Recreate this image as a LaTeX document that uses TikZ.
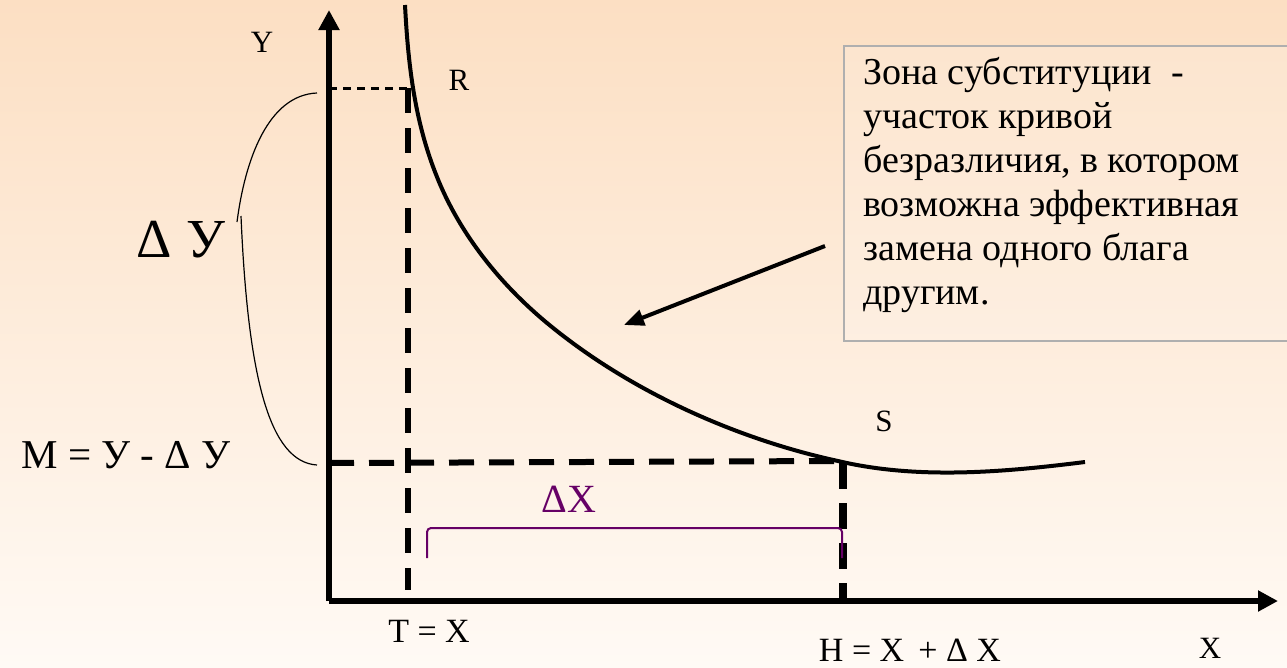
\documentclass[tikz,border=0pt]{standalone}
\usepackage{fontspec}
\setmainfont{Liberation Serif}
\usetikzlibrary{arrows.meta}
\definecolor{bgtop}{RGB}{252,223,195}
\definecolor{bgbot}{RGB}{255,250,245}
\definecolor{bracecol}{RGB}{102,0,102}
\definecolor{boxline}{RGB}{175,175,175}
\tikzset{
  axisline/.style={line width=6pt,-{Triangle[length=20pt,width=20pt]}},
  curveline/.style={line width=4pt},
  thindash/.style={line width=3pt,dash pattern=on 8pt off 6pt},
  thickdash/.style={line width=6pt,dash pattern=on 25pt off 15pt},
  heavydash/.style={line width=8pt,dash pattern=on 26pt off 14pt},
  thinbrace/.style={line width=1.2pt},
  lab/.style={inner sep=0pt,font=\fontsize{31}{36}\selectfont},
  eqlab/.style={inner sep=0pt,font=\fontsize{34}{40}\selectfont},
  biglab/.style={inner sep=0pt,font=\fontsize{55}{64}\selectfont},
  midlab/.style={inner sep=0pt,font=\fontsize{41}{48}\selectfont},
  notebox/.style={draw=boxline,line width=1.5pt,fill=white,fill opacity=0.15,minimum width=470pt,minimum height=295pt,inner sep=0pt},
  notetext/.style={inner xsep=20pt,inner ysep=12pt,align=left,font=\fontsize{38}{44}\selectfont},
  pointer/.style={line width=4pt,-{Triangle[length=20pt,width=16pt]}},
}
\begin{document}
\begin{tikzpicture}[x=1pt,y=-1pt]
\useasboundingbox (0,0) rectangle (1287,667);
\clip (0,0) rectangle (1287,667);
\shade[top color=bgtop,bottom color=bgbot] (0,0) rectangle (1287,667);

% named points
\coordinate (O) at (329,601);
\coordinate (ytip) at (329,10);
\coordinate (xtip) at (1278,601);
\coordinate (ctop) at (405,5);
\coordinate (R) at (411,88);
\coordinate (S) at (838,461);
\coordinate (cend) at (1085,462);
\coordinate (yR) at (329,88);
\coordinate (yM) at (329,463);
\coordinate (xT) at (408,590);
\coordinate (xTtop) at (408,88);
\coordinate (xH) at (843,601);
\coordinate (xHtop) at (843,463);

% axes
\draw[axisline] (O) -- (ytip);
\draw[axisline] (O) -- (xtip);

% dashed guides
\draw[thindash] (yR) -- (R);
\draw[thickdash] (xTtop) -- (xT);
\draw[thickdash] (yM) -- (S);
\draw[heavydash] (xHtop) -- (xH);

% indifference curve
\draw[curveline] (ctop) .. controls (408,62) and (414,120) .. (437,177)
  .. controls (457,227) and (493,278) .. (547,323)
  .. controls (637,397.5) and (748,441.6) .. (S)
  .. controls (918,480) and (1005,472) .. (cend);

% left brace (Delta Y)
\coordinate (b1) at (317,93);
\coordinate (b2) at (237,222);
\coordinate (b3) at (241,216);
\coordinate (b4) at (317,465);
\draw[thinbrace] (b1) .. controls (268,95) and (245,160) .. (b2);
\draw[thinbrace] (b3) .. controls (248,380) and (270,462) .. (b4);

% bottom brace (Delta X)
\coordinate (d1) at (427,558);
\coordinate (d2) at (842,558);
\draw[bracecol,line width=2pt,rounded corners=4pt] (d1) -- (427,528) -- (842,528) -- (d2);

% labels
\node[lab] (Ylab) at (262,42) {Y};
\node[lab] (Rlab) at (459,80) {R};
\node[lab] (Slab) at (884,421) {S};
\node[lab] (Xlab) at (1210,648) {X};
\node[eqlab] (Tlab) at (429,631) {T = X};
\node[eqlab] (Hlab) at (910,650) {H = X \,+ Δ X};
\node[biglab] (dYlab) at (181,240) {Δ У};
\node[midlab] (Mlab) at (126,455) {M = У - Δ У};
\node[inner sep=0pt,text=bracecol,font=\fontsize{40}{48}\selectfont] (dXlab) at (569,499) {ΔX};

% note box
\node[notebox,anchor=north west] (note) at (843,45) {};
\node[notetext,anchor=north west] (notetxt) at (note.north west) {Зона субституции \ -\\участок кривой\\безразличия, в котором\\возможна эффективная\\замена одного блага\\другим.};

% pointer arrow
\coordinate (p1) at (825,246);
\coordinate (p2) at (624,325);
\draw[pointer] (p1) -- (p2);
\end{tikzpicture}
\end{document}
